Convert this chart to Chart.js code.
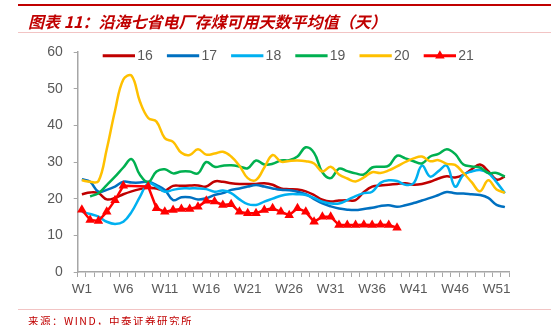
<!DOCTYPE html>
<html>
<head>
<meta charset="utf-8">
<script src="https://cdn.jsdelivr.net/npm/chart.js@4"></script>
<style>
  body { margin: 0; width: 551px; height: 325px; background: #fff; position: relative; overflow: hidden; }
  #wrap { position: absolute; left: 0; top: 0; width: 551px; height: 325px; }
  .rule { position: absolute; left: 18px; right: 0; }
  #topRule { top: 4px; height: 2px; background: #C00000; }
  #titleRule { top: 32px; height: 1px; background: #F2C4C4; }
  #srcRule { top: 309px; height: 1px; background: #F2C4C4; }
  #title { position: absolute; left: 28px; top: 9px; font: italic bold 16px "Noto Sans CJK SC", sans-serif; color: #C00000; white-space: nowrap; }
  #source { position: absolute; left: 28px; top: 313px; font: 10.5px "Noto Sans CJK SC", sans-serif; letter-spacing: 1.5px; color: #C00000; white-space: nowrap; }
</style>
</head>
<body>
<div id="wrap"><canvas id="myChart" width="551" height="325"></canvas></div>
<div class="rule" id="topRule"></div>
<div id="title">图表 11：沿海七省电厂存煤可用天数平均值（天）</div>
<div class="rule" id="titleRule"></div>
<div class="rule" id="srcRule"></div>
<div id="source">来源：WIND，中泰证券研究所</div>
<script>
// week labels W1..W52
const weeks = [];
for (let i = 1; i <= 52; i++) weeks.push('W' + i);

const yTicks = [0, 10, 20, 30, 40, 50, 60];
const seriesNames = ['16', '17', '18', '19', '20', '21'];
const seriesColors = ['#C00000', '#0070C0', '#00B0F0', '#00B050', '#FFC000', '#FF0000'];

const y16 = [21.2, 21.7, 21.5, 19.8, 20.2, 21.2, 22, 22.6, 23, 22.8, 22.2, 23.5, 23.5, 23.6, 23.6, 23.3, 24.7, 24.6, 24.2, 24,
  24, 24, 24.2, 23.8, 22.8, 22.6, 22.5, 22, 21, 19.7, 19.2, 19.5, 19.6, 19.6, 21.8, 23.3, 23.6, 23.8, 24, 24.2,
  23.8, 24, 24.6, 25.5, 26.1, 25.8, 26.5, 28, 29.3, 27.5, 25.2, 26];
const y17 = [25.3, 24.6, 21.9, 22.4, 23.3, 24.6, 24.4, 24.4, 24.6, 23.7, 22.4, 19.6, 20.4, 20.4, 19.8, 20.1, 21, 21.5, 22.4, 22.8,
  23.3, 23.7, 23.3, 22.8, 22.4, 22.3, 21.9, 21.2, 19.9, 18.7, 17.9, 17.3, 17, 16.9, 17.2, 17.5, 18, 18.2, 17.8, 18.2,
  18.8, 19.5, 20.2, 21, 21.8, 21.5, 21.4, 21.2, 21, 20.2, 18.3, 17.7];
const y18 = [16.4, 15.8, 15.1, 13.7, 13.1, 13.7, 16.4, 20.5, 24.2, 23.3, 21.9, 22.4, 22.8, 22.8, 22.8, 22.6, 21.9, 22.2, 21.5, 19.8,
  18.5, 18.3, 19.2, 20, 20.8, 21.2, 21.2, 21, 20.2, 19.2, 18.7, 18.7, 19.6, 20.7, 21.5, 21.9, 24.3, 25, 24.8, 23.8,
  24.2, 29, 26, 27.5, 29, 23.3, 26.5, 27.4, 27.8, 27, 24.5, 21.5];
const y19 = [null, 20.6, 21.5, 23.7, 26, 28.5, 30.8, 26.5, 24.5, 27.4, 28, 26.9, 27.4, 27.4, 26.9, 30, 28.7, 29, 29.1, 28.8,
  28.3, 30.4, 29.3, 29.5, 30.4, 30.5, 31.5, 34, 32.5, 27.2, 25.6, 28.2, 27.5, 26.9, 26.6, 28.5, 28.7, 29, 31.7, 31,
  30.2, 29.6, 31.5, 32.2, 33.5, 32.2, 29.3, 28.8, 28.5, 27, 27, 26];
const y20 = [25, 24.6, 24.8, 33.5, 44, 52.5, 53.5, 46.5, 42, 41, 36.5, 35.5, 32.5, 31.9, 33.5, 32, 32.3, 32.8, 31.5, 29,
  25.6, 25.1, 28.5, 31.9, 30.1, 30.3, 30.4, 30.2, 29.6, 27.4, 28.7, 26.6, 25.5, 24.7, 25.8, 27.2, 27, 27.7, 28.8, 30,
  31, 31.5, 30.2, 30.5, 29.5, 29.2, 27, 24.5, 22, 25, 22.5, 21.6];
const y21 = [17, 14.2, 13.9, 16.4, 19.6, 23.5, null, null, 23.3, 17.4, 16.4, 16.9, 17.2, 17.2, 17.8, 19.4, 19.2, 18.3, 18.5, 16.4,
  16, 16, 16.9, 17.4, 16.4, 15.5, 17.4, 16.4, 13.7, 15.1, 15.1, 12.8, 12.8, 12.8, 12.9, 12.8, 12.9, 12.8, 12.1];

const allSeries = [y16, y17, y18, y19, y20, y21];

function makeDataset(idx) {
  const isLast = idx === 5;
  return {
    label: seriesNames[idx],
    data: allSeries[idx],
    borderColor: seriesColors[idx],
    backgroundColor: seriesColors[idx],
    borderWidth: 2.5,
    tension: isLast ? 0 : 0.4,
    pointRadius: isLast ? 5.5 : 0,
    pointStyle: 'triangle',
    pointBorderWidth: 0,
    spanGaps: isLast,
    order: 5 - idx
  };
}

// legend drawn over the plot like the original
const legendPlugin = {
  id: 'overlayLegend',
  afterDraw(chart) {
    const ctx = chart.ctx;
    ctx.save();
    seriesNames.forEach((name, i) => {
      const x0 = 102.7 + 64.2 * i;
      const y = 55.7;
      ctx.strokeStyle = seriesColors[i];
      ctx.lineWidth = 3;
      ctx.beginPath();
      ctx.moveTo(x0, y);
      ctx.lineTo(x0 + 32.3, y);
      ctx.stroke();
      if (i === 5) {
        ctx.fillStyle = seriesColors[i];
        const cx = x0 + 16.2, r = 5.5;
        ctx.beginPath();
        ctx.moveTo(cx, y - r);
        ctx.lineTo(cx + r * 0.866, y + r * 0.5);
        ctx.lineTo(cx - r * 0.866, y + r * 0.5);
        ctx.closePath();
        ctx.fill();
      }
      ctx.fillStyle = '#595959';
      ctx.font = '14px "Liberation Sans", Arial, sans-serif';
      ctx.textBaseline = 'middle';
      ctx.textAlign = 'left';
      ctx.fillText(name, x0 + 34.5, y + 0.5);
    });
    ctx.restore();
  }
};

function mainEvent() {
  const target = document.querySelector('#myChart');
  const chart = new Chart(target, {
    type: 'line',
    data: {
      labels: weeks,
      datasets: seriesNames.map((n, i) => makeDataset(i))
    },
    options: {
      responsive: false,
      animation: false,
      layout: { padding: { left: 0, top: 52, right: 42, bottom: 0 } },
      plugins: { legend: { display: false }, tooltip: { enabled: false } },
      scales: {
        x: {
          offset: true,
          afterFit: (scale) => { scale.height = 53; },
          grid: { offset: true, drawOnChartArea: false, drawTicks: true, tickLength: 5, color: '#A6A6A6', lineWidth: 1 },
          border: { color: '#A6A6A6', width: 1.5 },
          ticks: {
            autoSkip: false,
            maxRotation: 0,
            padding: 4,
            color: '#595959',
            font: { family: '"Liberation Sans", Arial, sans-serif', size: 13.5 },
            callback: (val, idx) => (idx % 5 === 0 ? weeks[idx] : '')
          }
        },
        y: {
          min: 0,
          max: 60,
          afterFit: (scale) => { scale.width = 77.7; },
          afterBuildTicks: (scale) => { scale.ticks = yTicks.map((v) => ({ value: v })); },
          grid: { drawOnChartArea: false, drawTicks: true, tickLength: 4, color: '#A6A6A6' },
          border: { color: '#A6A6A6', width: 1.5 },
          ticks: {
            padding: 11,
            color: '#595959',
            font: { family: '"Liberation Sans", Arial, sans-serif', size: 14 }
          }
        }
      }
    },
    plugins: [legendPlugin]
  });
  return chart;
}

document.addEventListener('DOMContentLoaded', () => mainEvent());
</script>
</body>
</html>
